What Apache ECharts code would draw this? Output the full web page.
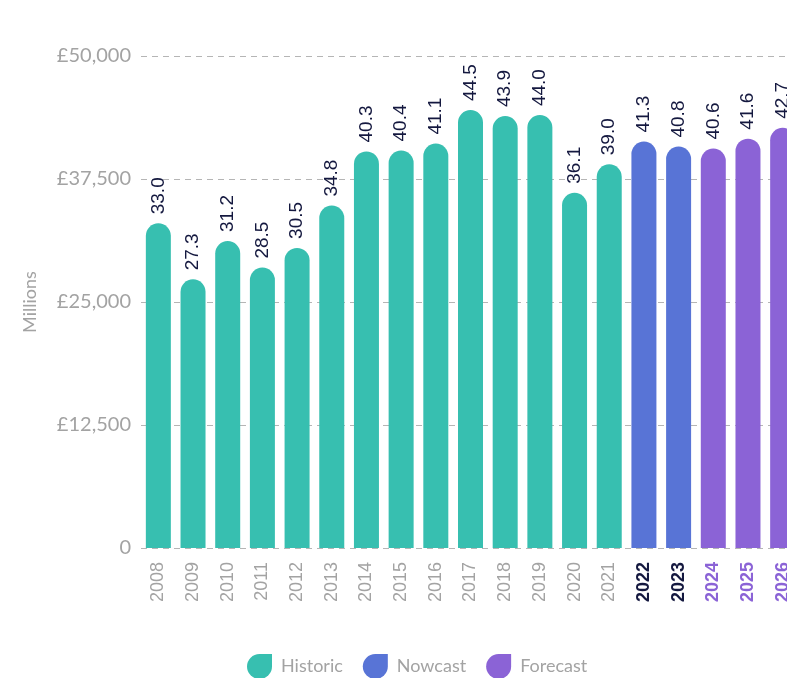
<!DOCTYPE html>
<html>
<head>
<meta charset="utf-8">
<style>
  html, body { margin: 0; padding: 0; overflow: hidden; background: #fff; }
  #chart { width: 820px; height: 678px; }
</style>
<script src="https://cdn.jsdelivr.net/npm/echarts@6/dist/echarts.min.js"></script>
</head>
<body>
<div id="chart"></div>
<script>
// years on the x axis
var years = ['2008','2009','2010','2011','2012','2013','2014','2015','2016','2017',
             '2018','2019','2020','2021','2022','2023','2024','2025','2026'];
// £ millions, one array per period
var historicValues = [33000, 27300, 31200, 28500, 30500, 34800, 40300, 40400, 41100, 44500,
                      43900, 44000, 36100, 39000];
var nowcastValues = [41300, 40800];
var forecastValues = [40600, 41600, 42700];
var yTicks = [0, 12500, 25000, 37500, 50000];

var colours = { historic: '#37bfb0', nowcast: '#5874d6', forecast: '#8b63d6' };

function pad(before, vals, after) {
    var out = [];
    for (var i = 0; i < before; i++) out.push('-');
    out = out.concat(vals);
    for (var j = 0; j < after; j++) out.push('-');
    return out;
}

var nH = historicValues.length, nN = nowcastValues.length, nF = forecastValues.length;
var iconPath = 'path://M0,12 A12,12 0 0 1 12,0 L24,0 L24,12 A12,12 0 0 1 12,24 A12,12 0 0 1 0,12 Z';
var sans = 'Liberation Sans, Arial, sans-serif';

function makeSeries(name, data, colour) {
    return {
        name: name,
        type: 'bar',
        stack: 'all',
        barWidth: 25,
        data: data,
        itemStyle: { color: colour, borderRadius: [12.5, 12.5, 0, 0] },
        label: {
            show: true,
            position: 'top',
            rotate: 90,
            align: 'left',
            verticalAlign: 'middle',
            distance: 9,
            color: '#14183f',
            fontSize: 19,
            fontFamily: sans,
            formatter: function (p) { return (p.value / 1000).toFixed(1); }
        }
    };
}

var chart = echarts.init(document.getElementById('chart'));
chart.setOption({
    animation: false,
    legend: {
        left: 242,
        top: 649,
        itemWidth: 25,
        itemHeight: 25,
        itemGap: 20,
        textStyle: { color: '#a3a3a3', fontSize: 18, fontFamily: 'Lato, sans-serif', padding: [0, 0, 0, 4] },
        data: [
            { name: 'Historic', icon: iconPath },
            { name: 'Nowcast', icon: iconPath },
            { name: 'Forecast', icon: iconPath }
        ]
    },
    grid: { left: 141, right: 20, top: 56, bottom: 130 },
    xAxis: {
        type: 'category',
        data: years,
        axisLine: { show: false },
        axisTick: { show: false },
        axisLabel: {
            rotate: 90,
            margin: 14,
            fontSize: 18,
            fontFamily: sans,
            formatter: function (v, i) {
                if (i >= nH + nN) return '{f|' + v + '}';
                if (i >= nH) return '{n|' + v + '}';
                return '{h|' + v + '}';
            },
            rich: {
                h: { color: '#a3a3a3', fontSize: 18, fontFamily: sans },
                n: { color: '#14183f', fontSize: 18, fontWeight: 'bold', fontFamily: sans },
                f: { color: '#8b63d6', fontSize: 18, fontWeight: 'bold', fontFamily: sans }
            }
        }
    },
    yAxis: {
        type: 'value',
        min: yTicks[0],
        max: yTicks[yTicks.length - 1],
        interval: yTicks[1] - yTicks[0],
        name: 'Millions',
        nameLocation: 'middle',
        nameGap: 102,
        nameTextStyle: { color: '#a3a3a3', fontSize: 18, fontFamily: 'Lato, sans-serif' },
        axisLabel: {
            margin: 10,
            color: '#a3a3a3',
            fontSize: 20,
            fontFamily: 'Lato, sans-serif',
            formatter: function (v) { return v === 0 ? '0' : '£' + v.toLocaleString('en-GB'); }
        },
        splitLine: { lineStyle: { color: '#b5b5b5', type: [6, 5], width: 1 } }
    },
    series: [
        makeSeries('Historic', pad(0, historicValues, nN + nF), colours.historic),
        makeSeries('Nowcast', pad(nH, nowcastValues, nF), colours.nowcast),
        makeSeries('Forecast', pad(nH + nN, forecastValues, 0), colours.forecast)
    ]
});
</script>
</body>
</html>
